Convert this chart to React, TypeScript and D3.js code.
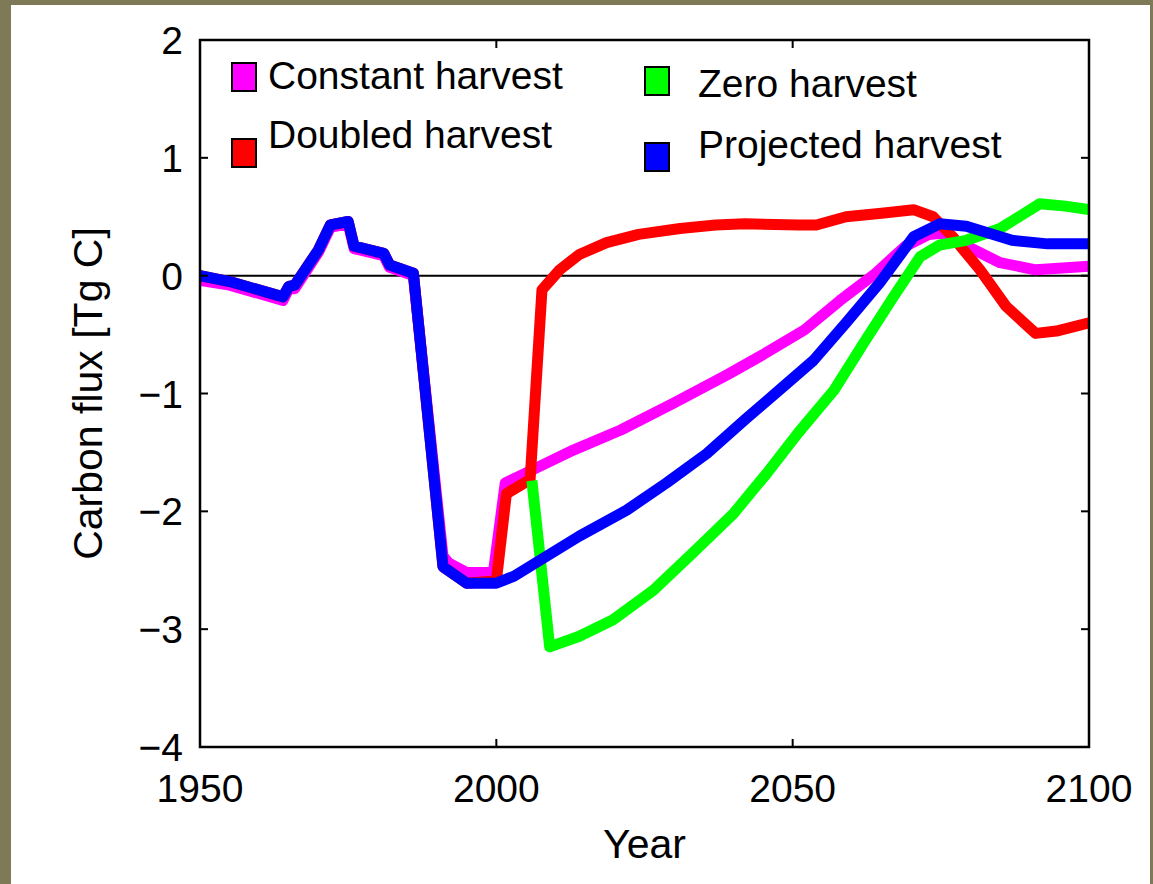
import React from "react";
import * as d3 from "d3";

const constantYears = [1950, 1955, 1964, 1965, 1966, 1970, 1972, 1975, 1976, 1981, 1982, 1986, 1991, 1992, 1995, 1999.5, 2001.5, 2006, 2013, 2021, 2030, 2039, 2045, 2052, 2058, 2064, 2069, 2073, 2075, 2079, 2085, 2091, 2100];
const constantValues = [-0.04, -0.08, -0.21, -0.11, -0.11, 0.2, 0.41, 0.44, 0.23, 0.17, 0.07, 0.0, -2.38, -2.44, -2.52, -2.52, -1.76, -1.65, -1.48, -1.31, -1.08, -0.84, -0.67, -0.46, -0.21, 0.02, 0.25, 0.35, 0.36, 0.26, 0.11, 0.05, 0.08];

const doubledYears = [1950, 1955, 1964, 1965, 1966, 1970, 1972, 1975, 1976, 1981, 1982, 1986, 1991, 1995, 2000, 2001.7, 2005.7, 2007.7, 2010.7, 2014, 2018.6, 2024, 2031, 2037, 2042, 2051, 2054, 2059, 2065, 2070.4, 2073.7, 2077, 2081.6, 2086, 2091, 2094.5, 2100];
const doubledValues = [0.0, -0.05, -0.18, -0.09, -0.08, 0.22, 0.43, 0.46, 0.25, 0.19, 0.09, 0.02, -2.47, -2.61, -2.59, -1.85, -1.73, -0.12, 0.05, 0.18, 0.28, 0.35, 0.4, 0.43, 0.44, 0.43, 0.43, 0.5, 0.53, 0.56, 0.5, 0.33, 0.05, -0.26, -0.49, -0.47, -0.4];

const zeroYears = [2006, 2009, 2014, 2019.7, 2026.5, 2033, 2040, 2045.6, 2051, 2057, 2062, 2067, 2071.5, 2074.8, 2079.3, 2085, 2091.7, 2096, 2100];
const zeroValues = [-1.74, -3.15, -3.06, -2.92, -2.67, -2.36, -2.02, -1.68, -1.33, -0.97, -0.57, -0.18, 0.16, 0.26, 0.3, 0.4, 0.61, 0.59, 0.56];

const projectedYears = [1950, 1955, 1964, 1965, 1966, 1970, 1972, 1975, 1976, 1981, 1982, 1986, 1991, 1995, 2000, 2003, 2008.5, 2014, 2022, 2028.7, 2035.5, 2042, 2048, 2053.5, 2059, 2064.7, 2070.4, 2074.8, 2079.3, 2087, 2093, 2100];
const projectedValues = [0.0, -0.05, -0.18, -0.09, -0.08, 0.22, 0.43, 0.46, 0.25, 0.19, 0.09, 0.02, -2.47, -2.61, -2.61, -2.55, -2.38, -2.21, -1.99, -1.76, -1.51, -1.22, -0.96, -0.72, -0.4, -0.06, 0.33, 0.44, 0.42, 0.3, 0.27, 0.27];

const seriesNames = ["Constant harvest", "Doubled harvest", "Zero harvest", "Projected harvest"];
const seriesColors = ["#ff00ff", "#ff0000", "#00ff00", "#0000ff"];

const xTicks = [1950, 2000, 2050, 2100];
const yTicks = [-4, -3, -2, -1, 0, 1, 2];

const W = 1153;
const H = 884;
const FONT = "'Liberation Sans', Arial, Helvetica, sans-serif";

export default function App() {
  const left = 200, right = 1089, top = 40, bottom = 747;
  const x = d3.scaleLinear().domain([1950, 2100]).range([left, right]);
  const y = d3.scaleLinear().domain([-4, 2]).range([bottom, top]);

  const series = [
    { years: constantYears, values: constantValues },
    { years: doubledYears, values: doubledValues },
    { years: zeroYears, values: zeroValues },
    { years: projectedYears, values: projectedValues },
  ];

  const line = d3
    .line<[number, number]>()
    .x((d) => x(d[0]))
    .y((d) => y(d[1]));

  const legend = [
    { i: 0, sx: 232, sy: 63, tx: 268, ty: 89 },
    { i: 1, sx: 232, sy: 139, tx: 268, ty: 148 },
    { i: 2, sx: 645, sy: 67, tx: 698, ty: 97 },
    { i: 3, sx: 645, sy: 143, tx: 698, ty: 158 },
  ];

  const tickLen = 8;

  return (
    <svg
      width={W}
      height={H}
      style={{ position: "absolute", left: 0, top: 0 }}
      fontFamily={FONT}
    >
      <rect x={0} y={0} width={W} height={H} fill="#7e7956" />
      <rect x={11} y={5} width={1139} height={H - 5} fill="#ffffff" />
      <defs>
        <clipPath id="plotclip">
          <rect x={left} y={top} width={right - left} height={bottom - top} />
        </clipPath>
      </defs>

      {/* zero line */}
      <line x1={left} x2={right} y1={y(0)} y2={y(0)} stroke="#000" strokeWidth={2} />

      {/* series */}
      <g clipPath="url(#plotclip)">
        {series.map((s, i) => (
          <path
            key={i}
            d={line(s.years.map((yr, j) => [yr, s.values[j]] as [number, number])) || ""}
            fill="none"
            stroke={seriesColors[i]}
            strokeWidth={11}
            strokeLinejoin="round"
            strokeLinecap="butt"
          />
        ))}
      </g>

      {/* frame */}
      <rect x={left} y={top} width={right - left} height={bottom - top} fill="none" stroke="#000" strokeWidth={2.5} />

      {/* ticks */}
      {xTicks.map((t) => (
        <g key={"xt" + t}>
          <line x1={x(t)} x2={x(t)} y1={bottom} y2={bottom - tickLen} stroke="#000" strokeWidth={2} />
          <line x1={x(t)} x2={x(t)} y1={top} y2={top + tickLen} stroke="#000" strokeWidth={2} />
          <text x={x(t)} y={802} textAnchor="middle" fontSize={39} fill="#000">
            {t}
          </text>
        </g>
      ))}
      {yTicks.map((t) => (
        <g key={"yt" + t}>
          <line x1={left} x2={left + tickLen} y1={y(t)} y2={y(t)} stroke="#000" strokeWidth={2} />
          <line x1={right} x2={right - tickLen} y1={y(t)} y2={y(t)} stroke="#000" strokeWidth={2} />
          <text x={183} y={y(t)} dy="0.36em" textAnchor="end" fontSize={39} fill="#000">
            {t < 0 ? "\u2212" + Math.abs(t) : String(t)}
          </text>
        </g>
      ))}

      {/* axis labels */}
      <text x={(left + right) / 2} y={858} textAnchor="middle" fontSize={41} fill="#000">
        Year
      </text>
      <text
        transform={`translate(102, ${(top + bottom) / 2}) rotate(-90)`}
        textAnchor="middle"
        fontSize={41}
        fill="#000"
      >
        Carbon flux [Tg C]
      </text>

      {/* legend */}
      {legend.map((l) => (
        <g key={"lg" + l.i}>
          <rect x={l.sx} y={l.sy} width={24} height={28} fill={seriesColors[l.i]} stroke="#000" strokeWidth={2} />
          <text x={l.tx} y={l.ty} fontSize={39} fill="#000">
            {seriesNames[l.i]}
          </text>
        </g>
      ))}
    </svg>
  );
}
